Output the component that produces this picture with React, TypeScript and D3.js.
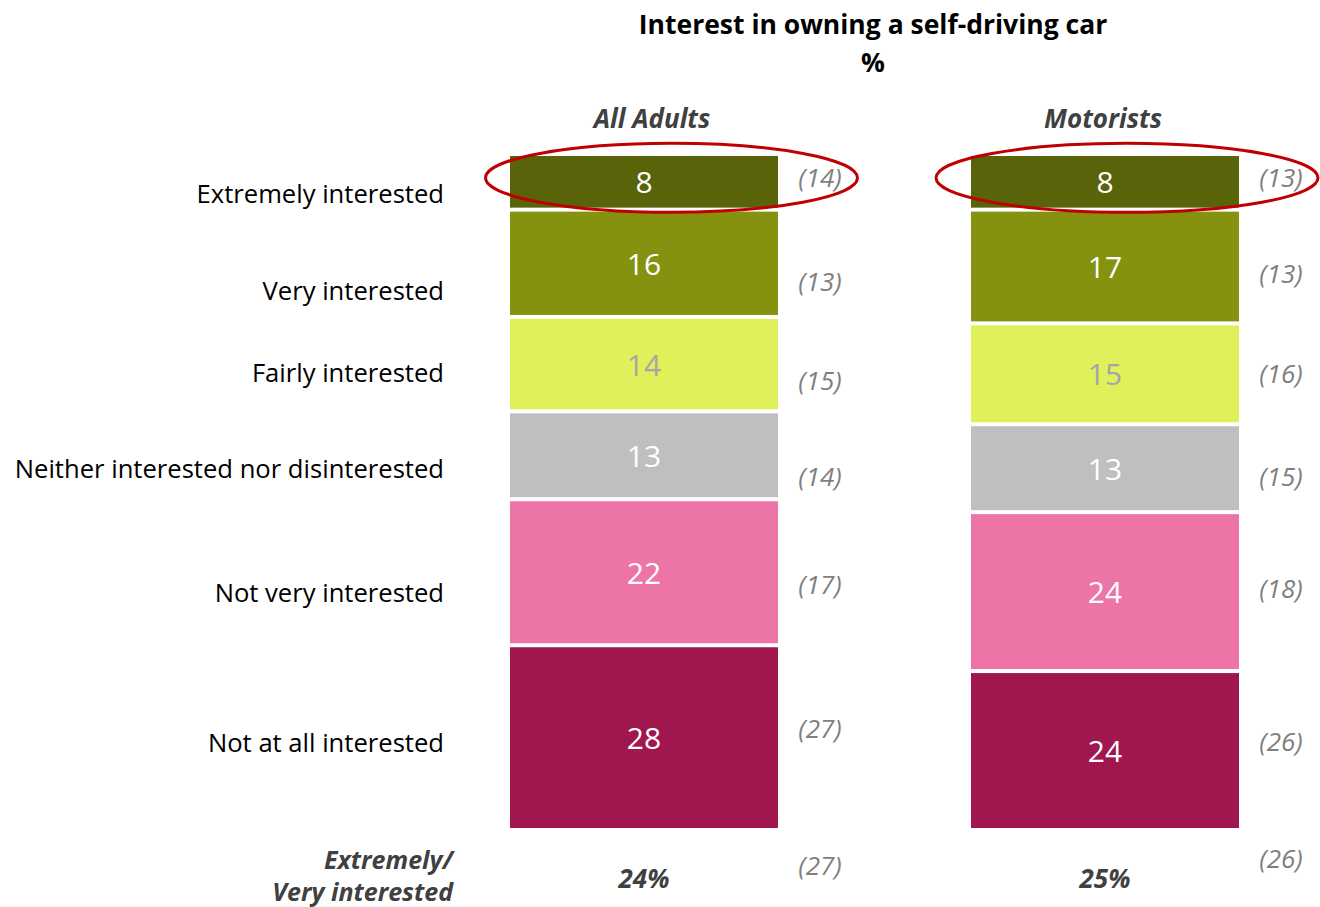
import React from "react";
import * as d3 from "d3";

const categories = [
  "Extremely interested",
  "Very interested",
  "Fairly interested",
  "Neither interested nor disinterested",
  "Not very interested",
  "Not at all interested",
];
const groups = ["All Adults", "Motorists"];
const allAdults = [8, 16, 14, 13, 22, 28];
const motorists = [8, 17, 15, 13, 24, 24];
const allAdultsPrev = [14, 13, 15, 14, 17, 27];
const motoristsPrev = [13, 13, 16, 15, 18, 26];
const netLabelLines = ["Extremely/", "Very interested"];
const netValues = [24, 25];
const netPrev = [27, 26];

const colors = ["#596309", "#84920f", "#dff05b", "#bfbfbf", "#ec74a7", "#a0174f"];
const valueTextColors = ["#ffffff", "#ffffff", "#a6a6a6", "#ffffff", "#ffffff", "#ffffff"];

// layout tweaks (pixels)
const prevDy = [
  [-5, 18, 16, 21, 12, -10],
  [-5, 6.5, -1, 8, -3.5, -10],
];
const catDy = [12, 27, 8, 13, 20, 5];
const headerDx = [8, -2];
const ellipseDx = [27.5, 22];
const ellipseRx = [186, 191];
const netPrevY = [865, 858];

const W = 1320;
const H = 907;
const GAP = 4;
const FONT = "'Open Sans', 'Noto Sans', sans-serif";

export default function App() {
  const series = [allAdults, motorists];
  const prevs = [allAdultsPrev, motoristsPrev];

  const x = d3.scaleBand<string>().domain(groups).range([510, 1239]).paddingInner(0.4187).paddingOuter(0);
  const bw = x.bandwidth();

  const segs = series.map((vals) => {
    const total = d3.sum(vals);
    const y = d3.scaleLinear().domain([0, total]).range([156, 828 - GAP * (vals.length - 1)]);
    const cum = d3.cumsum(vals);
    return vals.map((v, i) => {
      const start = i === 0 ? 0 : cum[i - 1];
      const y0 = y(start) + i * GAP;
      const y1 = y(cum[i]) + i * GAP;
      return { v, y0, y1, c: (y0 + y1) / 2 };
    });
  });

  return (
    <svg width={W} height={H} style={{ position: "absolute", left: 0, top: 0, background: "#fff" }} fontFamily={FONT}>
      <text x={873} y={24} textAnchor="middle" dominantBaseline="central" fontWeight="bold" fontSize={26.5} fill="#000">
        Interest in owning a self-driving car
      </text>
      <text x={873} y={62} textAnchor="middle" dominantBaseline="central" fontWeight="bold" fontSize={26.5} fill="#000">
        %
      </text>

      {groups.map((g, gi) => {
        const x0 = x(g) as number;
        const cx = x0 + bw / 2;
        return (
          <g key={g}>
            <text x={cx + headerDx[gi]} y={118} textAnchor="middle" dominantBaseline="central" fontWeight="bold" fontStyle="italic" fontSize={26} fill="#404040">
              {g}
            </text>
            {segs[gi].map((s, i) => (
              <g key={i}>
                <rect x={x0} y={s.y0} width={bw} height={s.y1 - s.y0} fill={colors[i]} />
                <text x={cx} y={s.c} textAnchor="middle" dominantBaseline="central" fontSize={30} fill={valueTextColors[i]}>
                  {s.v}
                </text>
                <text x={x0 + bw + 42} y={s.c + prevDy[gi][i]} textAnchor="middle" dominantBaseline="central" fontStyle="italic" fontSize={26} fill="#7f7f7f">
                  ({prevs[gi][i]})
                </text>
              </g>
            ))}
            <ellipse cx={cx + ellipseDx[gi]} cy={segs[gi][0].c - 4} rx={ellipseRx[gi]} ry={34.5} fill="none" stroke="#c00000" strokeWidth={3} />
            <text x={cx} y={878} textAnchor="middle" dominantBaseline="central" fontWeight="bold" fontStyle="italic" fontSize={26} fill="#404040">
              {netValues[gi]}%
            </text>
            <text x={x0 + bw + 42} y={netPrevY[gi]} textAnchor="middle" dominantBaseline="central" fontStyle="italic" fontSize={26} fill="#7f7f7f">
              ({netPrev[gi]})
            </text>
          </g>
        );
      })}

      {categories.map((c, i) => (
        <text key={c} x={444} y={segs[0][i].c + catDy[i]} textAnchor="end" dominantBaseline="central" fontSize={25.6} fill="#000">
          {c}
        </text>
      ))}

      {netLabelLines.map((l, i) => (
        <text key={l} x={453} y={859 + i * 32} textAnchor="end" dominantBaseline="central" fontWeight="bold" fontStyle="italic" fontSize={25} fill="#404040">
          {l}
        </text>
      ))}
    </svg>
  );
}
